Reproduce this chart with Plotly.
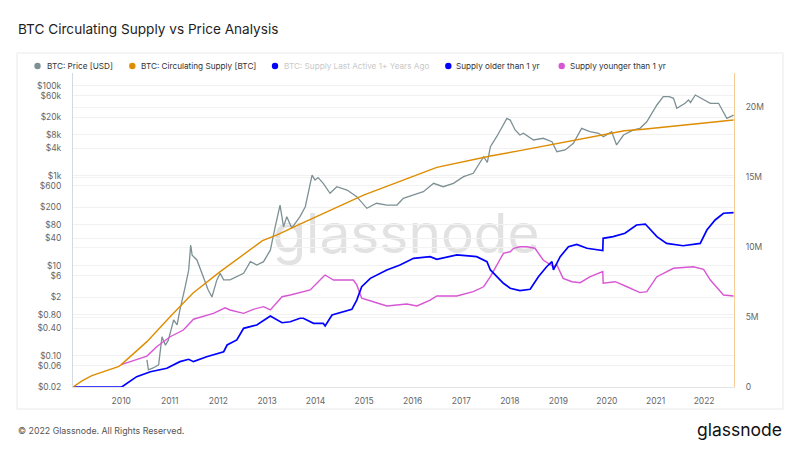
import math
import plotly.graph_objects as go

# ---------------- data ----------------
price_dates = [
    "2010-07-13", "2010-07-24", "2010-08-29", "2010-10-09", "2010-11-03", "2010-11-29", "2010-12-21",
    "2011-01-30", "2011-02-25", "2011-03-18", "2011-04-27", "2011-05-23", "2011-06-07", "2011-06-18",
    "2011-07-24", "2011-08-29", "2011-09-24", "2011-10-16", "2011-11-14", "2011-12-21",
    "2012-01-15", "2012-02-10", "2012-03-29", "2012-05-19", "2012-07-09", "2012-08-29", "2012-10-16",
    "2012-12-06", "2013-01-26", "2013-03-04", "2013-04-09", "2013-05-05", "2013-05-30", "2013-07-06",
    "2013-09-06", "2013-10-16", "2013-11-10", "2013-12-06", "2013-12-28", "2014-01-20", "2014-02-28",
    "2014-04-20", "2014-06-10", "2014-08-26", "2014-11-07", "2015-01-22", "2015-04-05", "2015-06-21",
    "2015-09-06", "2015-10-23", "2016-01-08", "2016-03-22", "2016-06-07", "2016-08-18", "2016-11-03",
    "2017-01-18", "2017-04-01", "2017-06-18", "2017-07-16", "2017-08-08", "2017-09-24", "2017-12-10",
    "2018-01-04", "2018-02-10", "2018-03-18", "2018-04-13", "2018-06-28", "2018-09-09", "2018-11-14",
    "2018-12-21", "2019-02-21", "2019-04-24", "2019-06-25", "2019-08-26", "2019-10-31", "2019-12-06",
    "2020-02-06", "2020-03-14", "2020-05-05", "2020-07-20", "2020-09-06", "2020-10-27", "2021-01-11",
    "2021-02-28", "2021-04-14", "2021-05-16", "2021-06-10", "2021-08-11", "2021-09-06", "2021-09-21",
    "2021-10-27", "2021-12-28", "2022-02-17", "2022-04-20", "2022-05-27", "2022-06-21", "2022-08-11",
]
price_usd = [
    0.080, 0.048, 0.053, 0.062, 0.26, 0.17, 0.22,
    0.62, 0.48, 1.03, 3.4, 7.9, 28.6, 17,
    13.3, 6.8, 4.4, 2.9, 2.0, 4.8,
    6.7, 4.8, 4.8, 5.7, 6.7, 12.2, 10.3,
    12.2, 22, 73, 221, 73, 122, 68,
    122, 203, 476, 1025, 795, 900, 672,
    404, 565, 476, 339, 187, 242, 221,
    221, 312, 370, 438, 673, 565, 673,
    942, 1120, 2630, 1950, 4380, 7300, 18700,
    17100, 10300, 7960, 8690, 6170, 6730, 5650,
    3390, 3700, 5210, 11200, 9420, 8690, 7300,
    9420, 4780, 7960, 10300, 11200, 15700, 37000,
    56500, 57000, 52100, 31200, 40300, 48000, 42000,
    61600, 47700, 40300, 40300, 24200, 18700, 22100,
]

supply_dates = [
    "2009-01-03", "2009-03-15", "2009-05-25", "2009-08-20", "2009-12-10", "2010-01-01", "2010-07-13",
    "2011-01-03", "2011-06-25", "2012-01-15", "2012-11-28", "2013-03-18", "2013-09-06", "2014-12-28",
    "2016-07-01", "2017-08-08", "2018-01-04", "2018-03-18", "2020-05-11", "2020-10-01", "2022-08-11",
]
supply_btc_m = [
    0.0, 0.45, 0.81, 1.09, 1.45, 1.60, 3.24,
    5.02, 6.71, 8.24, 10.45, 10.86, 11.64, 13.71,
    15.69, 16.50, 16.74, 16.88, 18.30, 18.41, 19.07,
]

older_dates = [
    "2009-01-03", "2010-01-04", "2010-04-27", "2010-08-08", "2010-12-10", "2011-03-18", "2011-05-23",
    "2011-06-28", "2011-10-05", "2012-02-10", "2012-03-07", "2012-05-19", "2012-07-09", "2012-10-16",
    "2013-01-26", "2013-04-24", "2013-06-25", "2013-09-06", "2013-10-01", "2013-12-17", "2014-02-28",
    "2014-03-14", "2014-05-05", "2014-10-01", "2014-11-07", "2014-12-14", "2015-02-17", "2015-06-21",
    "2015-09-28", "2016-01-08", "2016-05-12", "2016-07-01", "2016-11-29", "2017-04-27", "2017-07-13",
    "2017-08-08", "2017-11-14", "2018-01-04", "2018-03-18", "2018-06-03", "2018-08-04", "2018-10-05",
    "2018-11-14", "2018-11-25", "2019-01-15", "2019-03-18", "2019-05-19", "2019-08-04", "2019-12-01",
    "2019-12-04", "2020-02-17", "2020-05-16", "2020-08-11", "2020-10-16", "2021-01-11", "2021-03-25",
    "2021-07-27", "2021-12-03", "2022-01-22", "2022-03-25", "2022-05-27", "2022-08-11",
]
older_btc_m = [
    0.0, 0.0, 0.74, 1.09, 1.34, 1.81, 1.98,
    1.81, 2.16, 2.52, 3.00, 3.36, 4.19, 4.43,
    5.07, 4.59, 4.66, 4.91, 4.91, 4.55, 4.55,
    4.36, 5.14, 5.55, 6.21, 7.16, 7.76, 8.36,
    8.71, 9.19, 9.31, 9.12, 9.43, 9.31, 8.95,
    8.36, 7.41, 7.05, 6.88, 6.98, 7.88, 8.59,
    8.95, 8.36, 9.31, 10.02, 10.19, 9.91, 9.74,
    10.62, 10.74, 10.98, 11.57, 11.64, 10.74, 10.26,
    10.09, 10.26, 11.21, 11.93, 12.41, 12.45,
]

younger_dates = [
    "2010-01-01", "2010-07-13", "2010-09-24", "2011-01-04", "2011-04-13", "2011-06-28", "2011-11-25",
    "2012-02-21", "2012-03-29", "2012-07-09", "2012-09-20", "2012-12-06", "2013-01-26", "2013-04-24",
    "2013-06-25", "2013-09-06", "2013-11-22", "2014-02-28", "2014-03-14", "2014-05-16", "2014-10-12",
    "2014-11-07", "2014-12-14", "2015-03-11", "2015-06-21", "2015-11-18", "2016-02-03", "2016-05-12",
    "2016-07-01", "2016-11-29", "2017-04-01", "2017-06-18", "2017-08-08", "2017-11-14", "2018-01-04",
    "2018-01-30", "2018-03-18", "2018-05-08", "2018-07-09", "2018-09-09", "2018-11-25", "2018-12-21",
    "2019-02-06", "2019-04-13", "2019-06-14", "2019-08-29", "2019-12-01", "2019-12-04", "2020-03-04",
    "2020-05-31", "2020-09-06", "2020-10-27", "2021-01-11", "2021-05-16", "2021-10-12", "2021-12-28",
    "2022-02-17", "2022-05-27", "2022-08-11",
]
younger_btc_m = [
    1.60, 2.21, 2.88, 3.59, 4.07, 4.84, 5.26,
    5.66, 5.50, 5.26, 5.55, 5.74, 5.50, 6.45,
    6.57, 6.74, 6.93, 7.88, 8.00, 7.64, 7.64,
    7.29, 6.34, 6.09, 5.79, 5.93, 5.79, 6.21,
    6.50, 6.50, 6.81, 7.16, 7.88, 9.55, 9.66,
    9.91, 10.02, 10.02, 9.91, 9.07, 8.59, 8.71,
    7.76, 7.52, 7.45, 7.88, 8.24, 7.41, 7.52,
    7.16, 6.74, 6.81, 7.88, 8.48, 8.59, 8.41,
    7.64, 6.57, 6.50,
]

price_tickvals = [0.02, 0.06, 0.1, 0.4, 0.8, 2, 6, 10, 40, 80, 200, 600, 1000, 4000, 8000, 20000, 60000, 100000]
price_ticktext = ["$0.02", "$0.06", "$0.10", "$0.40", "$0.80", "$2", "$6", "$10", "$40", "$80",
                  "$200", "$600", "$1k", "$4k", "$8k", "$20k", "$60k", "$100k"]
supply_tickvals = [0, 5, 10, 15, 20]
supply_ticktext = ["0", "5M", "10M", "15M", "20M"]

legend_labels = ["BTC: Price [USD]", "BTC: Circulating Supply [BTC]", "BTC: Supply Last Active 1+ Years Ago",
                 "Supply older than 1 yr", "Supply younger than 1 yr"]

# ---------------- styling ----------------
C_PRICE = "#7d9094"
C_SUPPLY = "#de8c00"
C_OLDER = "#0000ff"
C_YOUNGER = "#d856d4"
FONT = "Inter, Roboto, sans-serif"

W, H = 800, 450
L, R, T, B = 73, 734, 73, 387          # plot area in pixels
PW, PH = R - L, B - T


def px(x):
    return (x - L) / PW


def py(y):
    return (B - y) / PH


fig = go.Figure()
fig.add_trace(go.Scatter(x=younger_dates, y=younger_btc_m, yaxis="y2", mode="lines",
                         line=dict(color=C_YOUNGER, width=1.4), name=legend_labels[4], showlegend=False))
fig.add_trace(go.Scatter(x=older_dates, y=older_btc_m, yaxis="y2", mode="lines",
                         line=dict(color=C_OLDER, width=1.7), name=legend_labels[3], showlegend=False))
fig.add_trace(go.Scatter(x=supply_dates, y=supply_btc_m, yaxis="y2", mode="lines",
                         line=dict(color=C_SUPPLY, width=1.4), name=legend_labels[1], showlegend=False))
fig.add_trace(go.Scatter(x=price_dates, y=price_usd, yaxis="y", mode="lines",
                         line=dict(color=C_PRICE, width=1.3), name=legend_labels[0], showlegend=False))

log_lo = math.log10(0.02)
fig.update_layout(
    width=W, height=H,
    margin=dict(l=L, r=W - R, t=T, b=H - B),
    paper_bgcolor="white", plot_bgcolor="rgba(0,0,0,0)",
    font=dict(family=FONT, size=9, color="#666"),
    showlegend=False,
    xaxis=dict(type="date", range=["2009-01-03", "2022-08-14"], dtick="M12", tick0="2010-01-01",
               tickformat="%Y", showgrid=False, zeroline=False, showline=True, linecolor="#e4e4e4",
               ticks="", ticklabelstandoff=6, tickfont=dict(size=8.5, color="#666")),
    yaxis=dict(type="log", range=[log_lo, log_lo + PH / 45.0], tickmode="array",
               tickvals=price_tickvals, ticktext=price_ticktext, showgrid=True, gridcolor="#f1f1f1",
               zeroline=False, showline=True, linecolor="#d3dae1", ticks="", ticklabelstandoff=9,
               tickfont=dict(size=8.5, color="#666")),
    yaxis2=dict(overlaying="y", side="right", range=[0, PH / 14.0], tickmode="array",
                tickvals=supply_tickvals, ticktext=supply_ticktext, showgrid=True, gridcolor="#f3f3f3",
                zeroline=False, showline=True, linecolor="#f5cd92", ticks="", ticklabelstandoff=9,
                tickfont=dict(size=8.5, color="#666")),
)

shapes = []
# outer frame of the chart card
shapes.append(dict(type="rect", xref="paper", yref="paper", x0=px(17), x1=px(783), y0=py(409), y1=py(53),
                   line=dict(color="#e9e9e9", width=1), fillcolor="rgba(0,0,0,0)", layer="below"))
# watermark (drawn between grid and traces)
shapes.append(dict(type="rect", xref="paper", yref="paper", x0=px(276), x1=px(536), y0=py(262), y1=py(200),
                   line=dict(width=0), fillcolor="rgba(0,0,0,0)", layer="between",
                   label=dict(text="glassnode", textposition="middle center",
                              font=dict(family=FONT, size=55, color="#e2e2e2"))))

# legend (dots + labels)
legend_dot_x = [37.5, 132.3, 275, 448.3, 561.7]
legend_text_x = [45, 138.8, 281.5, 454.3, 567.8]
legend_dot_c = [C_PRICE, C_SUPPLY, C_OLDER, C_OLDER, C_YOUNGER]
legend_text_c = ["#333", "#333", "#c9c9c9", "#333", "#333"]
LEG_Y = 66
annotations = []
for dx, tx, dc, tc, lab in zip(legend_dot_x, legend_text_x, legend_dot_c, legend_text_c, legend_labels):
    shapes.append(dict(type="circle", xref="paper", yref="paper", xsizemode="pixel", ysizemode="pixel",
                       xanchor=px(dx), yanchor=py(LEG_Y), x0=-3.2, x1=3.2, y0=-3.2, y1=3.2,
                       fillcolor=dc, line=dict(width=0)))
    annotations.append(dict(text=lab, xref="paper", yref="paper", x=px(tx), y=py(LEG_Y), xanchor="left",
                            yanchor="middle", showarrow=False, font=dict(family=FONT, size=8.2, color=tc)))

annotations.append(dict(text="BTC Circulating Supply vs Price Analysis", xref="paper", yref="paper",
                        x=px(16), y=py(29), xanchor="left", yanchor="middle", showarrow=False,
                        font=dict(family=FONT, size=13.6, color="#1e1e1e")))
annotations.append(dict(text="© 2022 Glassnode. All Rights Reserved.", xref="paper", yref="paper",
                        x=px(16), y=py(430), xanchor="left", yanchor="middle", showarrow=False,
                        font=dict(family=FONT, size=8.8, color="#555")))
annotations.append(dict(text="glassnode", xref="paper", yref="paper",
                        x=px(784), y=py(429), xanchor="right", yanchor="middle", showarrow=False,
                        font=dict(family=FONT, size=17.5, color="#111")))

fig.update_layout(shapes=shapes, annotations=annotations)
fig.write_html("out.html")
